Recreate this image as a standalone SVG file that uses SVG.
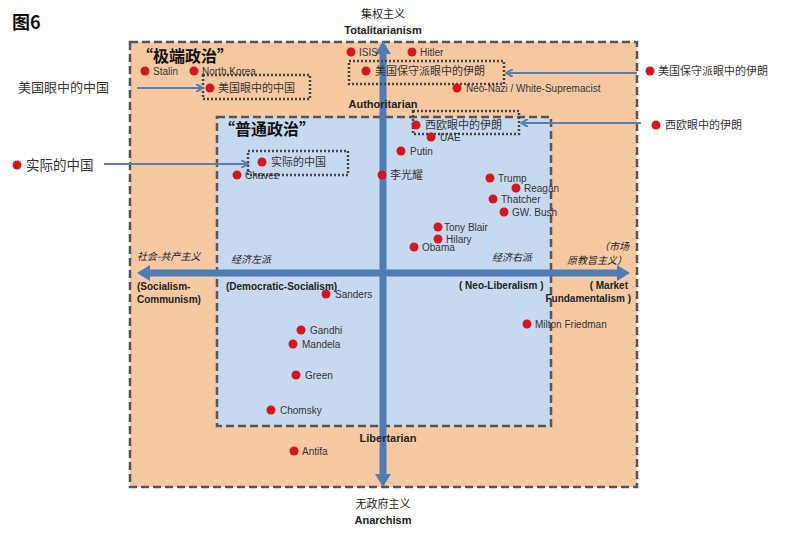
<svg xmlns="http://www.w3.org/2000/svg" width="800" height="537" viewBox="0 0 800 537">
<style>
.t{font-family:"Liberation Sans","Noto Sans CJK SC",sans-serif;font-size:10px;fill:#333}
.cn{font-family:"Noto Sans CJK SC",sans-serif;font-size:11px;fill:#333}
.b{font-family:"Liberation Sans","Noto Sans CJK SC",sans-serif;font-size:11px;font-weight:bold;fill:#222}
.ax{font-family:"Noto Sans CJK SC",serif;font-size:10px;font-style:italic;fill:#222}
.h{font-family:"Noto Sans CJK SC",sans-serif;font-size:16px;font-weight:bold;fill:#111}
.dot{fill:#D0181E}
.box{stroke:#555;stroke-width:2.5;stroke-dasharray:8 4}
.dbox{fill:none;stroke:#444;stroke-width:2.5;stroke-dasharray:2 2}
.axis{stroke:#4F7CB5;stroke-width:7;fill:none}
.con{stroke:#5A7DAA;stroke-width:2;fill:none}
</style>
<defs>
<marker id="ah" markerWidth="8" markerHeight="8" refX="6" refY="4" orient="auto" markerUnits="userSpaceOnUse"><path d="M0,0 L7,4 L0,8" fill="none" stroke="#5A7DAA" stroke-width="2"/></marker>
<marker id="big" viewBox="0 0 14 16" markerWidth="14" markerHeight="16" refX="1" refY="8" orient="auto-start-reverse" markerUnits="userSpaceOnUse"><path d="M0,0 L13,8 L0,16 Z" fill="#4F7CB5"/></marker>
</defs>
<rect width="800" height="537" fill="#fff"/>
<text x="12" y="29" class="h" style="font-size:18px">图6</text>

<g id="extreme-zone">
<rect x="130" y="42" width="507" height="445" fill="#F6C9A2" class="box"/>
<text x="137" y="62" class="h">“极端政治”</text>
</g>
<g id="normal-zone">
<rect x="217" y="117" width="334" height="309" fill="#C7D9F0" class="box"/>
<text x="219" y="135" class="h">“普通政治”</text>
</g>

<g id="axes">
<line x1="383" y1="53" x2="383" y2="475" class="axis" marker-start="url(#big)" marker-end="url(#big)"/>
<line x1="149" y1="273" x2="618" y2="273" class="axis" marker-start="url(#big)" marker-end="url(#big)"/>
</g>

<g id="axis-labels">
<text x="383" y="18" class="ax" text-anchor="middle" style="font-style:normal;font-size:11px">集权主义</text>
<text x="383" y="34" class="b" text-anchor="middle">Totalitarianism</text>
<text x="383" y="108" class="b" text-anchor="middle">Authoritarian</text>
<text x="388" y="442" class="b" text-anchor="middle">Libertarian</text>
<text x="383" y="508" class="ax" text-anchor="middle" style="font-style:normal;font-size:11px">无政府主义</text>
<text x="383" y="524" class="b" text-anchor="middle">Anarchism</text>
<text x="137" y="260" class="ax">社会-共产主义</text>
<text x="137" y="290" class="b" style="font-size:10px">(Socialism-</text>
<text x="137" y="303" class="b" style="font-size:10px">Communism)</text>
<text x="231" y="263" class="ax">经济左派</text>
<text x="226" y="290" class="b" style="font-size:10px">(Democratic-Socialism)</text>
<text x="492" y="261" class="ax">经济右派</text>
<text x="459" y="289" class="b" style="font-size:10px">( Neo-Liberalism )</text>
<text x="629" y="250" class="ax" text-anchor="end">（市场</text>
<text x="627" y="264" class="ax" text-anchor="end">原教旨主义）</text>
<text x="628" y="289" class="b" text-anchor="end" style="font-size:10px">( Market</text>
<text x="631" y="302" class="b" text-anchor="end" style="font-size:10px">Fundamentalism )</text>
</g>

<g id="n-stalin"><circle cx="145" cy="71" r="4.5" class="dot"/><text x="153" y="75" class="t">Stalin</text></g>
<g id="n-northkorea"><circle cx="194" cy="71" r="4.5" class="dot"/><text x="202" y="75" class="t">North Korea</text></g>
<g id="n-china-us"><rect x="203" y="75" width="107" height="24" class="dbox"/><circle cx="210" cy="88" r="4.5" class="dot"/><text x="218" y="92" class="cn">美国眼中的中国</text></g>
<g id="n-isis"><circle cx="351" cy="52" r="4.5" class="dot"/><text x="359" y="56" class="t">ISIS</text></g>
<g id="n-hitler"><circle cx="412" cy="52" r="4.5" class="dot"/><text x="420" y="56" class="t">Hitler</text></g>
<g id="n-iran-us"><rect x="349" y="61" width="155" height="23" class="dbox"/><circle cx="366" cy="71" r="4.5" class="dot"/><text x="375" y="75" class="cn">美国保守派眼中的伊朗</text></g>
<g id="n-neonazi"><circle cx="457" cy="88" r="4.5" class="dot"/><text x="466" y="92" class="t">Neo-Nazi / White-Supremacist</text></g>
<g id="n-iran-eu"><rect x="413" y="111" width="106" height="23" class="dbox"/><circle cx="416" cy="125" r="4.5" class="dot"/><text x="425" y="129" class="cn">西欧眼中的伊朗</text></g>
<g id="n-uae"><circle cx="431" cy="137" r="4.5" class="dot"/><text x="440" y="141" class="t">UAE</text></g>
<g id="n-putin"><circle cx="401" cy="151" r="4.5" class="dot"/><text x="410" y="155" class="t">Putin</text></g>
<g id="n-china-real"><rect x="248" y="151" width="100" height="24" class="dbox"/><circle cx="262" cy="162" r="4.5" class="dot"/><text x="271" y="166" class="cn">实际的中国</text></g>
<g id="n-chavez"><circle cx="237" cy="175" r="4.5" class="dot"/><text x="245" y="179" class="t">Chavez</text></g>
<g id="n-lky"><circle cx="382" cy="175" r="4.5" class="dot"/><text x="390" y="179" class="cn">李光耀</text></g>
<g id="n-trump"><circle cx="490" cy="178" r="4.5" class="dot"/><text x="498" y="182" class="t">Trump</text></g>
<g id="n-reagan"><circle cx="516" cy="188" r="4.5" class="dot"/><text x="524" y="192" class="t">Reagan</text></g>
<g id="n-thatcher"><circle cx="493" cy="199" r="4.5" class="dot"/><text x="501" y="203" class="t">Thatcher</text></g>
<g id="n-bush"><circle cx="504" cy="212" r="4.5" class="dot"/><text x="512" y="216" class="t">GW. Bush</text></g>
<g id="n-blair"><circle cx="438" cy="227" r="4.5" class="dot"/><text x="444" y="231" class="t">Tony Blair</text></g>
<g id="n-hilary"><circle cx="438" cy="239" r="4.5" class="dot"/><text x="446" y="243" class="t">Hilary</text></g>
<g id="n-obama"><circle cx="414" cy="247" r="4.5" class="dot"/><text x="422" y="251" class="t">Obama</text></g>
<g id="n-sanders"><circle cx="326" cy="294" r="4.5" class="dot"/><text x="335" y="298" class="t">Sanders</text></g>
<g id="n-gandhi"><circle cx="301" cy="330" r="4.5" class="dot"/><text x="310" y="334" class="t">Gandhi</text></g>
<g id="n-mandela"><circle cx="293" cy="344" r="4.5" class="dot"/><text x="302" y="348" class="t">Mandela</text></g>
<g id="n-green"><circle cx="296" cy="375" r="4.5" class="dot"/><text x="305" y="379" class="t">Green</text></g>
<g id="n-chomsky"><circle cx="271" cy="410" r="4.5" class="dot"/><text x="280" y="414" class="t">Chomsky</text></g>
<g id="n-antifa"><circle cx="294" cy="451" r="4.5" class="dot"/><text x="302" y="455" class="t">Antifa</text></g>
<g id="n-friedman"><circle cx="527" cy="324" r="4.5" class="dot"/><text x="535" y="328" class="t">Milton Friedman</text></g>

<g id="ext-china-us"><text x="18" y="92" class="cn" style="font-size:13px">美国眼中的中国</text></g>
<g id="ext-china-real"><circle cx="17" cy="165" r="4.5" class="dot"/><text x="26" y="170" class="cn" style="font-size:13.5px">实际的中国</text></g>
<g id="ext-iran-us"><circle cx="650" cy="71" r="4.5" class="dot"/><text x="658" y="75" class="cn">美国保守派眼中的伊朗</text></g>
<g id="ext-iran-eu"><circle cx="656" cy="125" r="4.5" class="dot"/><text x="665" y="129" class="cn">西欧眼中的伊朗</text></g>

<g id="connectors">
<line x1="137" y1="88" x2="202" y2="88" class="con" marker-end="url(#ah)"/>
<line x1="104" y1="164" x2="247" y2="164" class="con" marker-end="url(#ah)"/>
<line x1="637" y1="73" x2="507" y2="73" class="con" marker-end="url(#ah)"/>
<line x1="641" y1="123" x2="522" y2="123" class="con" marker-end="url(#ah)"/>
</g>
</svg>
